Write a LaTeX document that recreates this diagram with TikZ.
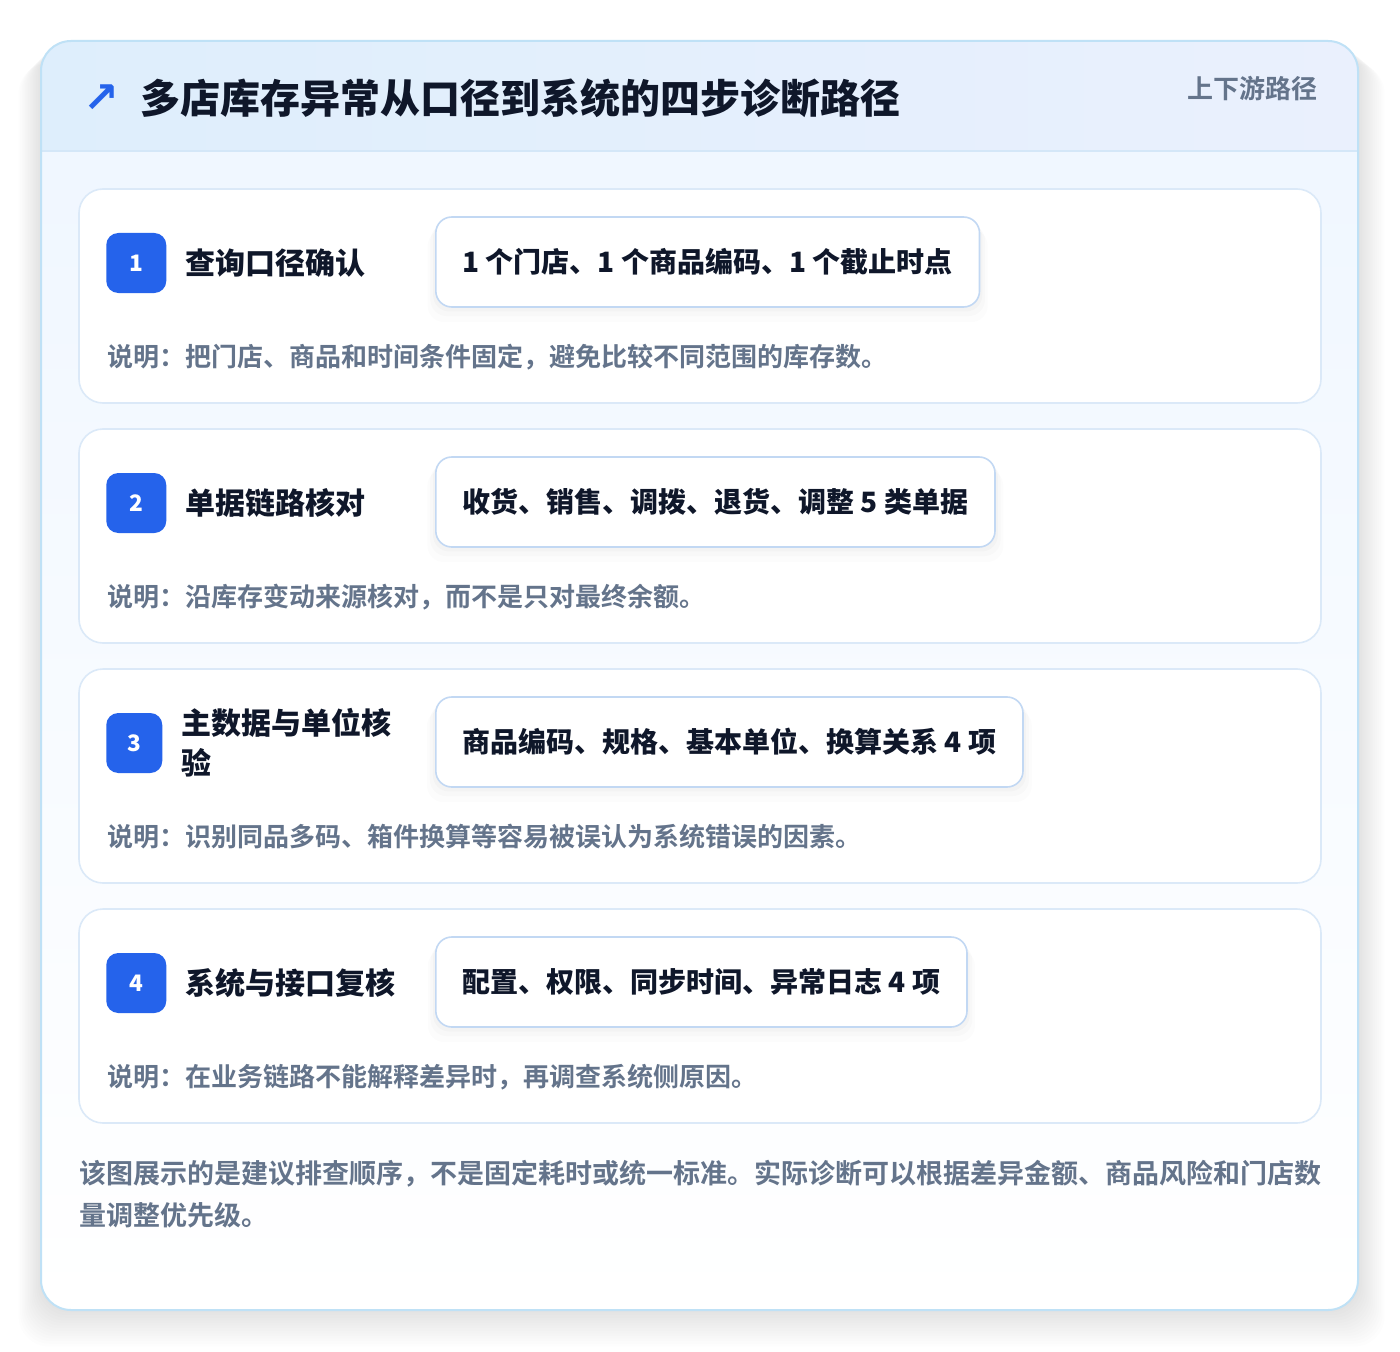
\documentclass[tikz,border=0pt]{standalone}
\usepackage{fontspec}
\setmainfont{Noto Sans CJK SC}[BoldFont={Noto Sans CJK SC Bold}]
\newfontfamily\heavyfont{Noto Sans CJK SC Black}
\newfontfamily\arrowfont{DejaVu Sans}
\usetikzlibrary{positioning, shadows}

\definecolor{BrandBlue}{HTML}{2563EB}
\definecolor{InkDark}{HTML}{0F172A}
\definecolor{InkGrey}{HTML}{64748B}
\definecolor{CardLine}{HTML}{BFE1F6}
\definecolor{StepLine}{HTML}{DBE9F8}
\definecolor{PillLine}{HTML}{C2D8F3}
\definecolor{HeadLeft}{HTML}{DEEEFC}
\definecolor{HeadRight}{HTML}{EAF0FD}
\definecolor{HeadRule}{HTML}{D4E7F8}
\definecolor{BodyTop}{HTML}{F0F7FF}

\tikzset{
  stepcard/.style={draw=StepLine, line width=1.2pt, fill=white, rounded corners=18pt},
  badge/.style={fill=BrandBlue, rounded corners=9pt, minimum height=45pt, inner sep=0pt,
    text=white, font=\heavyfont\fontsize{17pt}{20pt}\selectfont},
  steptitle/.style={inner sep=0pt, text=InkDark, align=left,
    font=\heavyfont\fontsize{22.5pt}{30pt}\selectfont},
  pill/.style={anchor=west, draw=PillLine, line width=1.2pt, fill=white, rounded corners=12pt,
    minimum height=67.5pt, inner xsep=20pt, text=InkDark,
    font=\heavyfont\fontsize{21pt}{24pt}\selectfont,
    general shadow={fill=black, opacity=0.02, shadow yshift=-3pt, shadow scale=1.01},
    general shadow={fill=black, opacity=0.015, shadow yshift=-6pt, shadow scale=1.02},
    general shadow={fill=black, opacity=0.012, shadow yshift=-10pt, shadow scale=1.03}},
  stepnote/.style={anchor=west, inner sep=0pt, text=InkGrey,
    font=\bfseries\fontsize{19.5pt}{24pt}\selectfont},
}

\begin{document}
\begin{tikzpicture}[x=0.75pt, y=-0.75pt]
    \useasboundingbox (0,0) rectangle (1400,1352);
    \fill[white] (0,0) rectangle (1400,1352);

    % soft shadow of the outer card
    \foreach \k in {1,...,14}
        \fill[black, opacity=0.007, rounded corners=22.5pt]
            ({41-1.6*\k},{41+1.6*\k}) rectangle ({1358+1.9*\k},{1310+2.6*\k});

    % outer card: header band and body
    \begin{scope}
        \clip[rounded corners=22.5pt] (41,41) rectangle (1358,1310);
        \shade[left color=HeadLeft, right color=HeadRight] (41,41) rectangle (1358,151);
        \shade[top color=BodyTop, bottom color=white] (41,151) rectangle (1358,1310);
    \end{scope}
    \draw[HeadRule, line width=1.2pt] (41,151) -- (1358,151);
    \draw[CardLine, line width=1.5pt, rounded corners=22.5pt] (41,41) rectangle (1358,1310);

    \node[text=BrandBlue, font=\arrowfont\bfseries\fontsize{32pt}{36pt}\selectfont] (icon) at (101,99) {↗};
    \node[anchor=west, inner sep=0pt, text=InkDark, font=\heavyfont\fontsize{30pt}{36pt}\selectfont]
        (title) at (140,98) {多店库存异常从口径到系统的四步诊断路径};
    \node[anchor=east, inner sep=0pt, text=InkGrey, font=\bfseries\fontsize{19.5pt}{24pt}\selectfont]
        (tag) at (1318,89) {上下游路径};

    % the four diagnostic steps
    \foreach \n/\bw/\name/\facts/\note in {
        1/45pt/{查询口径确认}/{1 个门店、1 个商品编码、1 个截止时点}/{说明：把门店、商品和时间条件固定，避免比较不同范围的库存数。},
        2/45pt/{单据链路核对}/{收货、销售、调拨、退货、调整 5 类单据}/{说明：沿库存变动来源核对，而不是只对最终余额。},
        3/42pt/{主数据与单位核\\验}/{商品编码、规格、基本单位、换算关系 4 项}/{说明：识别同品多码、箱件换算等容易被误认为系统错误的因素。},
        4/45pt/{系统与接口复核}/{配置、权限、同步时间、异常日志 4 项}/{说明：在业务链路不能解释差异时，再调查系统侧原因。}}
    {
        \pgfmathsetmacro\rowtop{189+240*(\n-1)}
        \draw[stepcard] (79,\rowtop) rectangle (1321,{\rowtop+214});
        \node[badge, minimum width=\bw, anchor=west] (badge\n) at (106,{\rowtop+74}) {\n};
        \node[steptitle, right=14pt of badge\n] (name\n) {\name};
        \node[pill] (facts\n) at (435,{\rowtop+73}) {\facts};
        \node[stepnote] (note\n) at (107,{\rowtop+168}) {\note};
    }

    \node[anchor=north west, inner sep=0pt, text=InkGrey, align=left,
          font=\bfseries\fontsize{20.25pt}{31.5pt}\selectfont] (footnote) at (79,1160)
        {该图展示的是建议排查顺序，不是固定耗时或统一标准。实际诊断可以根据差异金额、商品风险和门店数\\量调整优先级。};
\end{tikzpicture}
\end{document}
